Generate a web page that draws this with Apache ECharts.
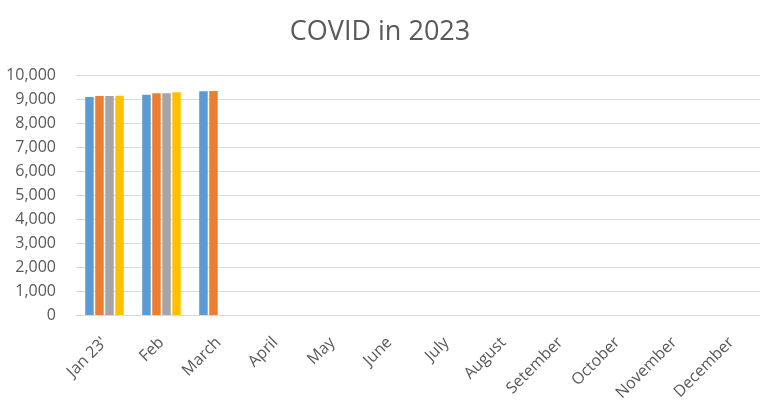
<!DOCTYPE html>
<html>
<head>
<meta charset="utf-8">
<script src="https://cdn.jsdelivr.net/npm/echarts@6/dist/echarts.min.js"></script>
<style>
  html, body { margin: 0; padding: 0; background: #fff; }
  #chart { width: 760px; height: 420px; }
</style>
</head>
<body>
<div id="chart"></div>
<script>
/* ── data ── */
const months = ["Jan 23'", "Feb", "March", "April", "May", "June", "July",
  "August", "Setember", "October", "November", "December"];
const series1 = [9080, 9180, 9320, null, null, null, null, null, null, null, null, null];
const series2 = [9120, 9240, 9330, null, null, null, null, null, null, null, null, null];
const series3 = [9120, 9240, null, null, null, null, null, null, null, null, null, null];
const series4 = [9140, 9280, null, null, null, null, null, null, null, null, null, null];

/* ── colours ── */
const COLORS = ["#5b9bd5", "#ed7d31", "#a5a5a5", "#ffc000"];
const TEXT = "#595959";
const FONT = "Open Sans, sans-serif";

const chart = echarts.init(document.getElementById("chart"));

const bar = (name, data, color) => ({
  name, type: "bar", data,
  barWidth: 8.5, barGap: "18%",
  itemStyle: { color },
  animation: false,
});

chart.setOption({
  animation: false,
  title: {
    text: "COVID in 2023",
    left: "center", top: 14,
    textStyle: { fontFamily: FONT, fontWeight: "normal", fontSize: 27, color: TEXT },
  },
  grid: { left: 76, right: 0, top: 75, bottom: 105 },
  xAxis: {
    type: "category", data: months,
    axisLine: { lineStyle: { color: "#d9d9d9", width: 1 } },
    axisTick: { show: false },
    axisLabel: {
      rotate: 45, interval: 0, margin: 25,
      color: TEXT, fontFamily: FONT, fontSize: 16,
    },
  },
  yAxis: {
    type: "value", min: 0, max: 10000, interval: 1000,
    axisLine: { show: false },
    axisTick: { show: false },
    axisLabel: {
      color: TEXT, fontFamily: FONT, fontSize: 16, margin: 20,
      formatter: (v) => v.toLocaleString("en-US"),
    },
    splitLine: { lineStyle: { color: "#d9d9d9", width: 1 } },
  },
  series: [
    bar("Series 1", series1, COLORS[0]),
    bar("Series 2", series2, COLORS[1]),
    bar("Series 3", series3, COLORS[2]),
    bar("Series 4", series4, COLORS[3]),
  ],
});
</script>
</body>
</html>
